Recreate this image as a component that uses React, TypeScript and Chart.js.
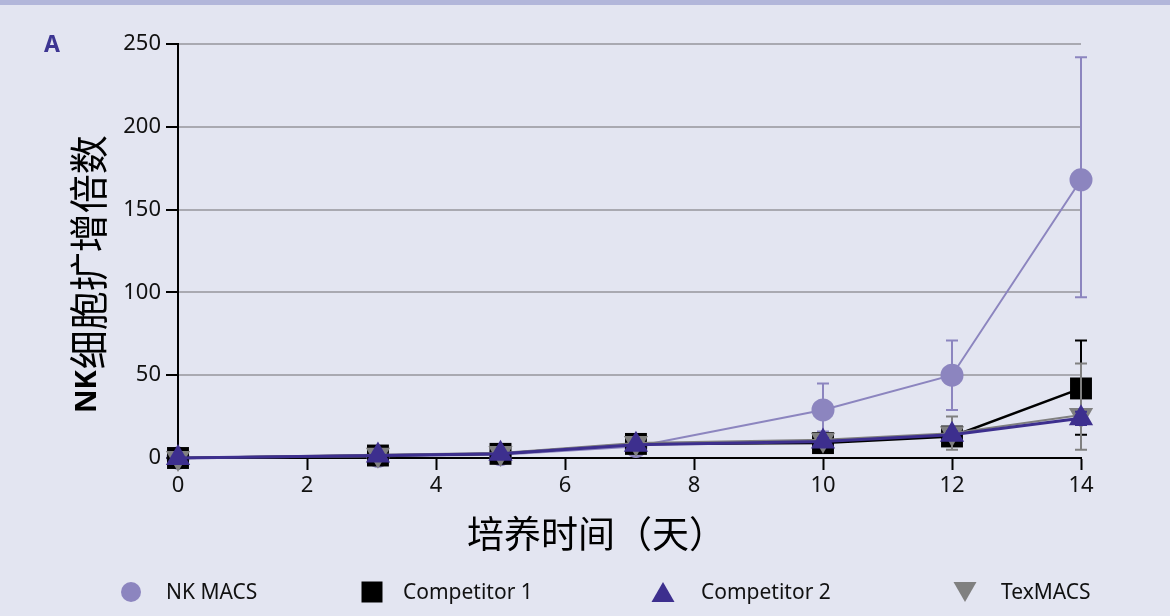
import React, { useEffect, useRef } from "react";
import { Chart, registerables } from "chart.js";

Chart.register(...registerables);

// ---- data ----
const days = [0, 3.1, 5, 7.1, 10, 12, 14];

const nkMacs = [0, 1, 2, 7, 29, 50, 168];
const nkLow = [0, 0.5, 1.5, 6, 16, 29, 97];
const nkHigh = [0, 1.5, 2.5, 8, 45, 71, 242];

const competitor1 = [0, 1.5, 2.5, 8.5, 9, 13, 42];
const comp1Low = [0, 1, 2, 6.5, 6, 10, 14];
const comp1High = [0, 2, 3, 10.5, 12, 16, 71];

const competitor2 = [0, 1.5, 2.5, 8, 10, 14, 24];
const comp2Low = [0, 1, 2, 7, 8, 12, 20];
const comp2High = [0, 2, 3, 9, 12, 16, 28];

const texMacs = [0, 2, 3, 9, 11, 15, 26];
const texLow = [0, 1.5, 2.5, 7.5, 8, 5, 5];
const texHigh = [0, 2.5, 3.5, 10.5, 14, 25, 57];

const seriesNames = ["NK MACS", "Competitor 1", "Competitor 2", "TexMACS"];
const xTitle = "培养时间（天）";
const yTitleLatin = "NK";
const yTitleCjk = "细胞扩增倍数";
const panelLabel = "A";

const xMin = 0;
const xMax = 14;
const xStep = 2;
const yMin = 0;
const yMax = 250;
const yStep = 50;

// ---- styles ----
const BG = "#e3e5f1";
const STRIP = "#b2b6da";
const C_NK = "#8c85bf";
const C_C1 = "#000000";
const C_C2 = "#3d2f8e";
const C_TEX = "#808080";
const GRID = "#a9a9b1";
const TEXT = "#111111";

export default function App() {
  const ref = useRef<HTMLCanvasElement>(null);

  useEffect(() => {
    const canvas = ref.current!;
    const pts = (vals: number[]) => vals.map((y, i) => ({ x: days[i], y }));

    const bgPlugin = {
      id: "bgPlugin",
      beforeDraw(chart: any) {
        const c = chart.ctx;
        c.save();
        c.fillStyle = BG;
        c.fillRect(0, 0, chart.width, chart.height);
        c.fillStyle = STRIP;
        c.fillRect(0, 0, chart.width, 5);
        c.restore();
      },
    };

    const errPlugin = {
      id: "errPlugin",
      beforeDatasetDraw(chart: any, args: any) {
        const ds: any = chart.data.datasets[args.index];
        const meta = args.meta;
        const ys = chart.scales.y;
        const c = chart.ctx;
        c.save();
        c.strokeStyle = ds.errColor;
        c.lineWidth = 2;
        meta.data.forEach((pt: any, i: number) => {
          const lo = ys.getPixelForValue(ds.errLow[i]);
          const hi = ys.getPixelForValue(ds.errHigh[i]);
          if (Math.abs(lo - hi) < 2) return;
          c.beginPath();
          c.moveTo(pt.x, lo);
          c.lineTo(pt.x, hi);
          c.moveTo(pt.x - 6, lo);
          c.lineTo(pt.x + 6, lo);
          c.moveTo(pt.x - 6, hi);
          c.lineTo(pt.x + 6, hi);
          c.stroke();
        });
        c.restore();
      },
    };

    const drawMarker = (c: CanvasRenderingContext2D, kind: string, x: number, y: number, color: string) => {
      c.fillStyle = color;
      c.beginPath();
      if (kind === "circle") {
        c.arc(x, y, 10, 0, Math.PI * 2);
      } else if (kind === "rect") {
        c.rect(x - 10.5, y - 10.5, 21, 21);
      } else if (kind === "tri") {
        c.moveTo(x, y - 10);
        c.lineTo(x + 11.5, y + 10);
        c.lineTo(x - 11.5, y + 10);
        c.closePath();
      } else {
        c.moveTo(x - 11.5, y - 10);
        c.lineTo(x + 11.5, y - 10);
        c.lineTo(x, y + 10);
        c.closePath();
      }
      c.fill();
    };

    const textPlugin = {
      id: "textPlugin",
      afterDraw(chart: any) {
        const c = chart.ctx as CanvasRenderingContext2D;
        c.save();
        // panel label
        c.fillStyle = "#3d3592";
        c.font = "bold 23px 'Noto Sans'";
        c.textAlign = "center";
        c.textBaseline = "middle";
        c.fillText(panelLabel, 52, 45);

        // y title
        c.save();
        c.translate(88, 413);
        c.rotate(-Math.PI / 2);
        c.textAlign = "left";
        c.textBaseline = "middle";
        c.fillStyle = "#000";
        c.font = "bold 29px 'Noto Sans'";
        c.fillText(yTitleLatin, 0, 0);
        const w = c.measureText(yTitleLatin).width;
        c.font = "39px 'Noto Sans CJK SC'";
        c.fillText(yTitleCjk, w + 1, 0);
        c.restore();

        // x title
        c.fillStyle = "#000";
        c.font = "37px 'Noto Sans CJK SC'";
        c.textAlign = "left";
        c.textBaseline = "middle";
        c.fillText(xTitle, 467, 534);

        // legend
        const kinds = ["circle", "rect", "tri", "itri"];
        const colors = [C_NK, C_C1, C_C2, C_TEX];
        const mx = [131, 372, 663, 965];
        const tx = [166, 403, 701, 1001];
        const ly = 592;
        c.font = "21px 'Noto Sans'";
        c.textAlign = "left";
        c.textBaseline = "middle";
        seriesNames.forEach((name, i) => {
          drawMarker(c, kinds[i], mx[i], ly, colors[i]);
          c.fillStyle = "#111";
          c.fillText(name, tx[i], ly + 1);
        });
        c.restore();
      },
    };

    const chart = new Chart(canvas, {
      type: "line",
      data: {
        datasets: [
          {
            label: seriesNames[0],
            data: pts(nkMacs),
            borderColor: C_NK,
            backgroundColor: C_NK,
            borderWidth: 2,
            pointStyle: "circle",
            pointRadius: 11.5,
            pointBorderWidth: 0,
            clip: false,
            order: 4,
            errLow: nkLow,
            errHigh: nkHigh,
            errColor: C_NK,
          } as any,
          {
            label: seriesNames[1],
            data: pts(competitor1),
            borderColor: C_C1,
            backgroundColor: C_C1,
            borderWidth: 2.5,
            pointStyle: "rect",
            pointRadius: 15.5,
            pointBorderWidth: 0,
            clip: false,
            order: 3,
            errLow: comp1Low,
            errHigh: comp1High,
            errColor: C_C1,
          } as any,
          {
            label: seriesNames[2],
            data: pts(competitor2),
            borderColor: C_C2,
            backgroundColor: C_C2,
            borderWidth: 3,
            pointStyle: "triangle",
            pointRadius: 14,
            pointBorderWidth: 0,
            clip: false,
            order: 1,
            errLow: comp2Low,
            errHigh: comp2High,
            errColor: C_C2,
          } as any,
          {
            label: seriesNames[3],
            data: pts(texMacs),
            borderColor: C_TEX,
            backgroundColor: C_TEX,
            borderWidth: 2,
            pointStyle: "triangle",
            pointRotation: 180,
            pointRadius: 14,
            pointBorderWidth: 0,
            clip: false,
            order: 2,
            errLow: texLow,
            errHigh: texHigh,
            errColor: C_TEX,
          } as any,
        ],
      },
      options: {
        animation: false,
        responsive: false,
        devicePixelRatio: 1,
        layout: { padding: { left: 0, top: 44, right: 89, bottom: 0 } },
        plugins: {
          legend: { display: false },
          tooltip: { enabled: false },
        },
        scales: {
          x: {
            type: "linear",
            min: xMin,
            max: xMax,
            afterFit: (s: any) => {
              s.height = 158;
            },
            ticks: {
              stepSize: xStep,
              color: TEXT,
              font: { family: "'Noto Sans'", size: 22 },
              padding: 3,
            },
            grid: {
              drawOnChartArea: false,
              tickLength: 12,
              tickColor: "#000",
              tickWidth: 2,
            },
            border: { color: "#000", width: 2 },
          },
          y: {
            type: "linear",
            min: yMin,
            max: yMax,
            afterFit: (s: any) => {
              s.width = 178;
            },
            ticks: {
              stepSize: yStep,
              color: TEXT,
              font: { family: "'Noto Sans'", size: 22 },
              padding: 5,
            },
            grid: {
              color: GRID,
              lineWidth: 2,
              tickLength: 12,
              tickColor: "#000",
              tickWidth: 2,
            },
            border: { color: "#000", width: 2 },
          },
        },
      } as any,
      plugins: [bgPlugin, errPlugin, textPlugin],
    });

    return () => chart.destroy();
  }, []);

  return (
    <div style={{ position: "fixed", left: 0, top: 0, width: 1170, height: 616, background: BG }}>
      <canvas ref={ref} width={1170} height={616} style={{ display: "block", width: 1170, height: 616 }} />
    </div>
  );
}
